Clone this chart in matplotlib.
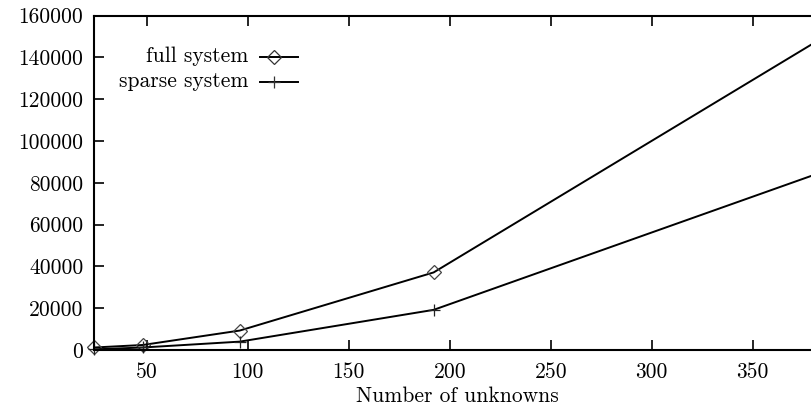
import matplotlib
matplotlib.use("Agg")
import matplotlib.pyplot as plt

# Datos
unknowns = [24, 48, 96, 192, 384]
full_system = [1200, 2400, 9300, 37100, 149000]
sparse_system = [300, 1200, 4000, 19200, 85000]

xticks = [50, 100, 150, 200, 250, 300, 350]
yticks = [0, 20000, 40000, 60000, 80000, 100000, 120000, 140000, 160000]

plt.rcParams["font.family"] = ["cmr10", "DejaVu Serif"]
plt.rcParams["axes.formatter.use_mathtext"] = True
plt.rcParams["mathtext.fontset"] = "cm"

fs = 15.5

fig = plt.figure(figsize=(8.12, 4.16), dpi=100)
ax = fig.add_axes([94.3 / 812, 66 / 416, 727.1 / 812, 334.5 / 416])

ax.plot(unknowns, full_system, color="black", lw=1.4, marker="D", ms=7.5,
        mfc="none", mec="#444444", mew=0.9, clip_on=False)
ax.plot(unknowns, sparse_system, color="black", lw=1.4, marker="+", ms=9,
        mec="#222222", mew=0.9, clip_on=False)

ax.set_xlim(24, 384)
ax.set_ylim(0, 160000)
ax.set_xticks(xticks)
ax.set_yticks(yticks)
ax.set_xticklabels([str(t) for t in xticks])
ax.set_yticklabels([str(t) for t in yticks])

ax.tick_params(direction="in", length=7.2, width=1.2, labelsize=fs,
               top=True, right=True, colors="black")
ax.tick_params(axis="x", pad=9)
ax.tick_params(axis="y", pad=8)
for s in ax.spines.values():
    s.set_linewidth(1.5)

ax.set_xlabel("Number of unknowns", fontsize=fs, labelpad=3)

# Leyenda estilo gnuplot (texto alineado a la derecha)
etiquetas = ["full system", "sparse system"]
marcas = [("D", 7.5), ("+", 9)]
for i, (txt, (m, ms)) in enumerate(zip(etiquetas, marcas)):
    yy = 0.8768 - i * 0.0747
    ax.text(0.2114, yy, txt, transform=ax.transAxes, ha="right",
            va="center", fontsize=fs)
    ax.plot([0.2279, 0.2802], [yy, yy], transform=ax.transAxes,
            color="black", lw=1.4, clip_on=False)
    ax.plot([0.2471], [yy], transform=ax.transAxes, marker=m, ms=ms,
            mfc="none", mec="#333333", mew=0.9, clip_on=False)

fig.savefig("out.png", dpi=100)
